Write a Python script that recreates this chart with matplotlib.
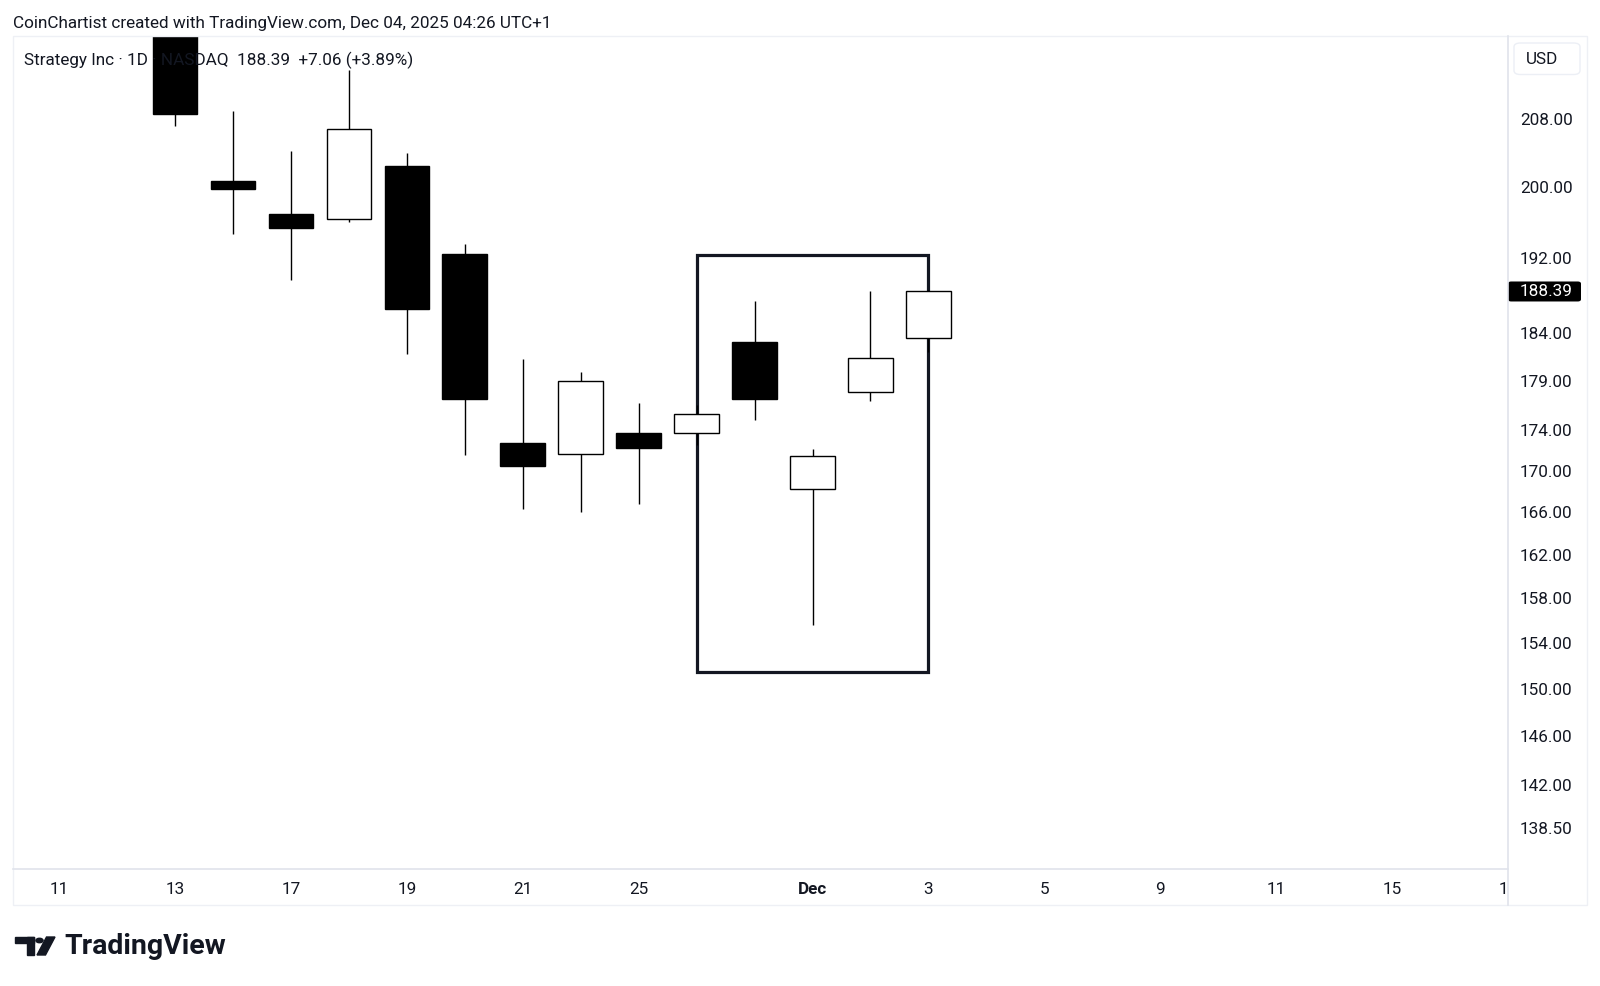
import matplotlib
matplotlib.use("Agg")
import matplotlib.pyplot as plt
from matplotlib.patches import Rectangle, FancyBboxPatch, Circle, Polygon
from matplotlib.lines import Line2D
from matplotlib.ticker import FixedLocator, FuncFormatter, NullLocator

plt.rcParams['font.family'] = ['Roboto', 'DejaVu Sans']

# --- donnees ---
# jours de bourse (index = position sur l'axe du temps)
label_idx = [0, 2, 4, 6, 8, 10, 13, 15, 17, 19, 21, 23, 25]
labels = ['11', '13', '17', '19', '21', '25', 'Dec', '3', '5', '9', '11', '15', '17']

# bougies du 13 nov au 3 dec (index 2 a 15)
first_idx = 2
opens = [221.0, 200.7, 197.0, 196.4, 202.4, 192.5, 172.7, 171.6, 173.7, 173.7, 183.0, 168.2, 177.8, 183.4]
highs = [224.0, 208.9, 204.2, 213.9, 204.0, 193.6, 181.2, 179.9, 176.7, 176.5, 187.4, 172.1, 188.4, 188.6]
lows = [207.1, 194.7, 189.6, 196.1, 181.8, 171.5, 166.3, 166.0, 166.8, 172.5, 175.0, 155.6, 176.9, 182.0]
closes = [208.6, 199.8, 195.4, 206.8, 186.5, 177.1, 170.5, 179.0, 172.2, 175.6, 177.1, 171.4, 181.3, 188.39]

price_ticks = [138.5, 142, 146, 150, 154, 158, 162, 166, 170, 174, 179, 184, 192, 200, 208]
last_price = 188.39

# rectangle dessine a la main (26 nov -> 3 dec)
box_start, box_end = 11, 15
box_low, box_high = 151.45, 192.35

TXT = '#131722'
LINE = '#e0e3eb'
FS = 12.3
W, H = 1600, 986


def fx(x):
    return x / W


def fy(y):
    return 1 - y / H


fig = plt.figure(figsize=(16, 9.86), dpi=100)
fig.patch.set_facecolor('white')

# zone des bougies
ax = fig.add_axes([fx(13.3), fy(869), fx(1508) - fx(13.3), fy(36) - fy(869)])
ax.set_yscale('log')
ax.set_xlim(-0.79, 25.0)
ax.set_ylim(135.3, 218.1)
for s in ax.spines.values():
    s.set_visible(False)

xs = [first_idx + i for i in range(len(opens))]
ax.vlines(xs, lows, highs, color='black', lw=1.0, zorder=3)
for x, o, c in zip(xs, opens, closes):
    face = 'white' if c >= o else 'black'
    ax.bar(x, abs(c - o), bottom=min(o, c), width=0.77, color=face,
           edgecolor='black', linewidth=1.0, zorder=4)

ax.add_patch(Rectangle((box_start, box_low), box_end - box_start, box_high - box_low,
                       fill=False, edgecolor=TXT, linewidth=2.3, zorder=2))

ax.set_xticks([])
ax.yaxis.tick_right()
ax.yaxis.set_major_locator(FixedLocator(price_ticks))
ax.yaxis.set_minor_locator(NullLocator())
ax.yaxis.set_major_formatter(FuncFormatter(lambda v, p: '%.2f' % v))
ax.tick_params(axis='y', length=0, pad=8.6, labelsize=FS, labelcolor=TXT)

# axe du temps (texte coupe au bord comme sur TradingView)
ax_t = fig.add_axes([fx(13.3), fy(905), fx(1508) - fx(13.3), fy(869) - fy(905)])
ax_t.set_xlim(ax.get_xlim())
ax_t.axis('off')
for i, lab in zip(label_idx, labels):
    ax_t.text(i, 0.42, lab, ha='center', va='center', fontsize=FS, color=TXT,
              fontweight='bold' if lab == 'Dec' else 'normal', clip_on=True)

# cadres et separateurs
fig.add_artist(Rectangle((fx(13), fy(905)), fx(1587) - fx(13), fy(36) - fy(905),
                         transform=fig.transFigure, fill=False, edgecolor='#eef0f5', lw=1))
fig.add_artist(Line2D([fx(13), fx(1508)], [fy(869), fy(869)], transform=fig.transFigure,
                      color=LINE, lw=1.2))
fig.add_artist(Line2D([fx(1508), fx(1508)], [fy(36), fy(905)], transform=fig.transFigure,
                      color=LINE, lw=1.2))

# etiquette du dernier prix
_, ypix = ax.transData.transform((0, last_price))
yl = ypix / (fig.dpi * fig.get_figheight())
fig.add_artist(FancyBboxPatch((fx(1508), yl - 10 / H), fx(1581) - fx(1508), 20 / H,
                              boxstyle='round,pad=0,rounding_size=0.002',
                              transform=fig.transFigure, facecolor='black', edgecolor='none'))
fig.text(fx(1520), yl, '%.2f' % last_price, color='white', fontsize=FS, va='center', ha='left')

# bouton USD
fig.add_artist(FancyBboxPatch((fx(1514), fy(74.5)), fx(1580) - fx(1514), fy(43) - fy(74.5),
                              boxstyle='round,pad=0,rounding_size=0.004',
                              transform=fig.transFigure, facecolor='white', edgecolor='#eceff5', lw=1))
fig.text(fx(1542), fy(59), 'USD', color=TXT, fontsize=FS, va='center', ha='center')

# textes d'en-tete
fig.text(fx(13), fy(23.5), 'CoinChartist created with TradingView.com, Dec 04, 2025 04:26 UTC+1',
         color=TXT, fontsize=FS, va='center', ha='left')
fig.text(fx(23.5), fy(60), 'Strategy Inc \u00b7 1D \u00b7 NASDAQ  188.39  +7.06 (+3.89%)',
         color=TXT, fontsize=FS, va='center', ha='left', zorder=10)

# logo TradingView
fig.add_artist(Rectangle((fx(15), fy(943)), fx(34) - fx(15), fy(937) - fy(943),
                         transform=fig.transFigure, color=TXT))
fig.add_artist(Rectangle((fx(27), fy(955)), fx(34) - fx(27), fy(937) - fy(955),
                         transform=fig.transFigure, color=TXT))
fig.add_artist(Circle((fx(39.5), fy(940.5)), 3.6 / W, transform=fig.transFigure, color=TXT))
fig.add_artist(Polygon([(fx(37), fy(955)), (fx(45.5), fy(955)), (fx(55), fy(937)), (fx(46.5), fy(937))],
                       closed=True, transform=fig.transFigure, color=TXT))
fig.text(fx(64), fy(947), 'TradingView', color=TXT, fontsize=20.5, fontweight='bold',
         va='center', ha='left')

fig.savefig('out.png', dpi=100)
